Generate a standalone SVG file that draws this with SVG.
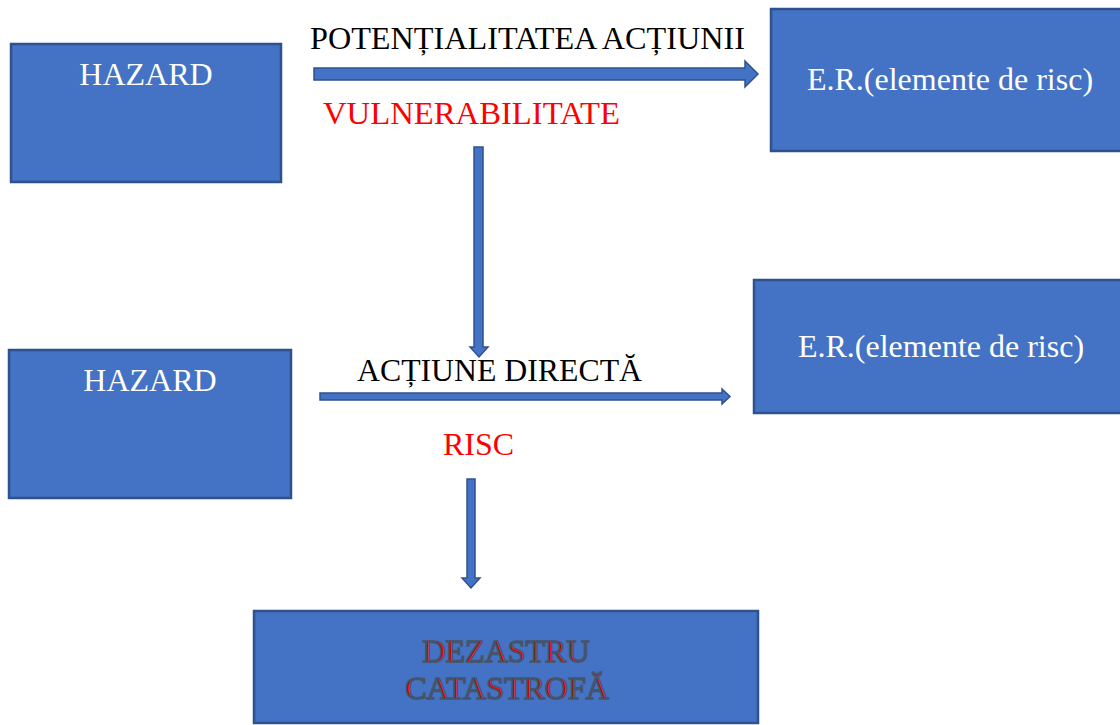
<svg xmlns="http://www.w3.org/2000/svg" width="1120" height="725" viewBox="0 0 1120 725">
  <style>
    .box { fill: #4472C4; stroke: #2F528F; stroke-width: 2.5; }
    .arrow { fill: #4472C4; stroke: #2F528F; stroke-width: 1.5; stroke-linejoin: miter; }
    .t { font-family: "Liberation Serif", "Times New Roman", serif; font-size: 32px; }
    .white { fill: #FFFFFF; }
    .black { fill: #000000; }
    .red { fill: #FF0000; }
    .dz { fill: #FF0000; stroke: #44546A; stroke-width: 1.7; }
  </style>
  <rect width="1120" height="725" fill="#FFFFFF"/>

  <g id="hazard1">
    <rect class="box" x="11" y="44" width="270" height="138"/>
    <text class="t white" x="146" y="85" text-anchor="middle">HAZARD</text>
  </g>
  <g id="er1">
    <rect class="box" x="771" y="9" width="360" height="142"/>
    <text class="t white" x="950" y="90" text-anchor="middle">E.R.(elemente de risc)</text>
  </g>
  <g id="hazard2">
    <rect class="box" x="9" y="350" width="282" height="148"/>
    <text class="t white" x="150" y="391" text-anchor="middle">HAZARD</text>
  </g>
  <g id="er2">
    <rect class="box" x="754" y="280" width="380" height="133"/>
    <text class="t white" x="941" y="357" text-anchor="middle">E.R.(elemente de risc)</text>
  </g>
  <g id="dezastru">
    <rect class="box" x="254" y="611" width="504" height="112"/>
    <text class="t dz" x="506" y="662" text-anchor="middle">DEZASTRU</text>
    <text class="t dz" x="507" y="699" text-anchor="middle">CATASTROFĂ</text>
  </g>

  <g id="connectors">
    <polygon class="arrow" points="314,68 745,68 745,61 758,74 745,87 745,80 314,80"/>
    <polygon class="arrow" points="474,147 483,147 483,347 488,347 479,357 470,347 474,347"/>
    <polygon class="arrow" points="320,393 722,393 722,389 730,396.5 722,404 722,400 320,400"/>
    <polygon class="arrow" points="467,479 475,479 475,578 480,578 471,588 462,578 467,578"/>
  </g>

  <g id="labels">
    <text class="t black" x="310" y="49" textLength="435" lengthAdjust="spacingAndGlyphs">POTENȚIALITATEA ACȚIUNII</text>
    <text class="t red" x="323" y="124" textLength="297" lengthAdjust="spacingAndGlyphs">VULNERABILITATE</text>
    <text class="t black" x="357" y="381" textLength="285" lengthAdjust="spacingAndGlyphs">ACȚIUNE DIRECTĂ</text>
    <text class="t red" x="443" y="455">RISC</text>
  </g>
</svg>
